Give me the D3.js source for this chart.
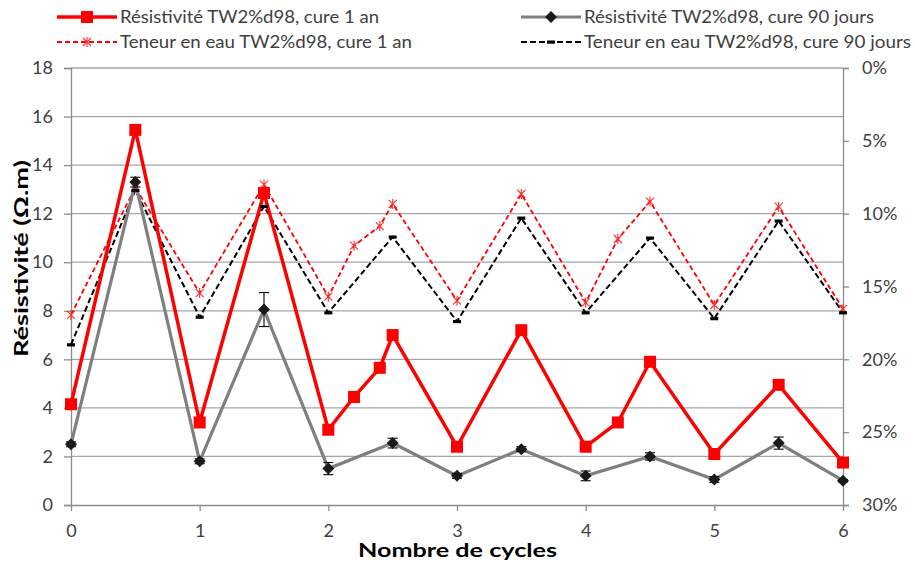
<!DOCTYPE html>
<html><head><meta charset="utf-8">
<script src="https://cdn.jsdelivr.net/npm/d3@7"></script>
<style>
body{margin:0;background:#fff;}
svg{display:block;font-family:Lato,"Open Sans",sans-serif;}
</style></head>
<body><svg id="chart" width="915" height="568"></svg>
<script>
// ---- data ----
const xRes1an = [0,0.5,1,1.5,2,2.2,2.4,2.5,3,3.5,4,4.25,4.5,5,5.5,6];
const res1an  = [4.15,15.45,3.4,12.85,3.1,4.45,5.65,7.0,2.4,7.2,2.4,3.4,5.9,2.1,4.95,1.75];
const xRes90  = [0,0.5,1,1.5,2,2.5,3,3.5,4,4.5,5,5.5,6];
const res90   = [2.5,13.3,1.8,8.05,1.5,2.55,1.2,2.3,1.2,2.0,1.05,2.55,1.0];
const res90Err= [0.1,0.2,0.1,0.7,0.25,0.2,0.1,0.1,0.2,0.15,0.12,0.25,0.05];
const eau1an  = [16.95,8.2,15.45,8.0,15.7,12.2,10.85,9.33,15.97,8.65,16.1,11.74,9.17,16.27,9.52,16.54];
const eau90   = [19.0,8.4,17.1,9.5,16.8,11.6,17.4,10.3,16.8,11.67,17.2,10.5,16.8];
const xTicks = [0,1,2,3,4,5,6];
const yTicks = [0,2,4,6,8,10,12,14,16,18];
const y2Ticks = [0,5,10,15,20,25,30];
const legendLabels = ["Résistivité TW2%d98, cure 1 an","Résistivité TW2%d98, cure 90 jours",
  "Teneur en eau TW2%d98, cure 1 an","Teneur en eau TW2%d98, cure 90 jours"];
const xTitle = "Nombre de cycles";
const yTitle = "Résistivité (Ω.m)";

// ---- layout ----
const svg = d3.select("#chart");
const L=71, R=843, T=68, B=505;
const x = d3.scaleLinear().domain([0,6]).range([L,R]);
const y = d3.scaleLinear().domain([0,18]).range([B,T]);
const y2 = d3.scaleLinear().domain([0,30]).range([T,B]);
const gridC="#a6a6a6", axisC="#8c8c8c", txtC="#404040";

// gridlines
svg.append("g").selectAll("line").data(yTicks.filter(d=>d>0)).join("line")
  .attr("x1",L).attr("x2",R).attr("y1",d=>y(d)).attr("y2",d=>y(d))
  .attr("stroke",gridC).attr("stroke-width",1.3);

// axes
const gl = svg.append("g").attr("transform",`translate(${L},0)`)
  .call(d3.axisLeft(y).tickValues(yTicks).tickSize(7).tickPadding(11));
const gr = svg.append("g").attr("transform",`translate(${R},0)`)
  .call(d3.axisRight(y2).tickValues(y2Ticks).tickSize(6).tickPadding(13).tickFormat(d=>d+"%"));
const gb = svg.append("g").attr("transform",`translate(0,${B})`)
  .call(d3.axisBottom(x).tickValues(xTicks).tickSize(6).tickPadding(13).tickFormat(d3.format("d")));
[gl,gr,gb].forEach(g=>{
  g.selectAll("path,line").attr("stroke",axisC).attr("stroke-width",1.3);
  g.selectAll("text").attr("fill",txtC).attr("font-size",18).attr("font-family","Lato,'Open Sans',sans-serif");
});
gb.select("path").attr("d",`M${L},0.5H${R}`);

// titles
svg.append("text").attr("x",358).attr("y",557)
  .attr("font-weight","bold").attr("font-size",18).attr("fill","#000")
  .attr("textLength",199).attr("lengthAdjust","spacingAndGlyphs").text(xTitle);
svg.append("text").attr("transform","translate(28,357) rotate(-90)")
  .attr("font-weight","bold").attr("font-size",18).attr("fill","#000")
  .attr("textLength",197).attr("lengthAdjust","spacingAndGlyphs").text(yTitle);

// ---- series ----
const lineRes = d3.line().x(d=>x(d[0])).y(d=>y(d[1]));
const lineEau = d3.line().x(d=>x(d[0])).y(d=>y2(d[1]));

const dEau1 = xRes1an.map((v,i)=>[v,eau1an[i]]);
const dEau90 = xRes90.map((v,i)=>[v,eau90[i]]);
const dRes1 = xRes1an.map((v,i)=>[v,res1an[i]]);
const dRes90 = xRes90.map((v,i)=>[v,res90[i],res90Err[i]]);

svg.append("path").attr("d",lineEau(dEau1)).attr("fill","none")
  .attr("stroke","#ff0000").attr("stroke-width",1.8).attr("stroke-dasharray","5,3");
svg.append("path").attr("d",lineEau(dEau90)).attr("fill","none")
  .attr("stroke","#000").attr("stroke-width",2).attr("stroke-dasharray","6,3");

svg.append("path").attr("d",lineRes(dRes90)).attr("fill","none")
  .attr("stroke","#7f7f7f").attr("stroke-width",3.2);
svg.append("path").attr("d",lineRes(dRes1)).attr("fill","none")
  .attr("stroke","#ff0000").attr("stroke-width",3.5);

function star(g,cx,cy,s,col){
  g.append("path").attr("d",`M${cx-s},${cy-s}L${cx+s},${cy+s}M${cx-s},${cy+s}L${cx+s},${cy-s}M${cx},${cy-s-1}L${cx},${cy+s+1}`)
   .attr("stroke",col).attr("stroke-width",1.1).attr("fill","none");
}
const gStar = svg.append("g");
dEau1.forEach(d=>star(gStar,x(d[0]),y2(d[1]),4,"#ff3030"));
svg.append("g").selectAll("rect").data(dEau90).join("rect")
  .attr("x",d=>x(d[0])-4).attr("y",d=>y2(d[1])-1.5).attr("width",8).attr("height",3.2).attr("fill","#000");

const ge = svg.append("g").attr("stroke","#000").attr("stroke-width",1.1);
dRes90.forEach(d=>{
  const cx=x(d[0]), y1=y(d[1]+d[2]), y0=y(d[1]-d[2]);
  ge.append("line").attr("x1",cx).attr("x2",cx).attr("y1",y1).attr("y2",y0);
  ge.append("line").attr("x1",cx-5).attr("x2",cx+5).attr("y1",y1).attr("y2",y1);
  ge.append("line").attr("x1",cx-5).attr("x2",cx+5).attr("y1",y0).attr("y2",y0);
});
svg.append("g").selectAll("path").data(dRes90).join("path")
  .attr("d",d=>{const cx=x(d[0]),cy=y(d[1]),s=6;return `M${cx},${cy-s}L${cx+s},${cy}L${cx},${cy+s}L${cx-s},${cy}Z`;})
  .attr("fill","#1a1a1a");
svg.append("g").selectAll("rect").data(dRes1).join("rect")
  .attr("x",d=>x(d[0])-6).attr("y",d=>y(d[1])-6).attr("width",12).attr("height",12).attr("fill","#ff0000");

// ---- legend ----
const lg = svg.append("g");
const legPos = [[57,17],[521,17],[57,42],[521,42]];
const legLen = [259,290,292,327];
legPos.forEach((p,i)=>{
  const [lx,ly]=p, x1=lx, x2=lx+60, mx=lx+30;
  if(i===0){
    lg.append("line").attr("x1",x1).attr("x2",x2).attr("y1",ly).attr("y2",ly).attr("stroke","#ff0000").attr("stroke-width",3.5);
    lg.append("rect").attr("x",mx-6).attr("y",ly-6).attr("width",12).attr("height",12).attr("fill","#ff0000");
  } else if(i===1){
    lg.append("line").attr("x1",x1).attr("x2",x2).attr("y1",ly).attr("y2",ly).attr("stroke","#7f7f7f").attr("stroke-width",3.2);
    lg.append("path").attr("d",`M${mx},${ly-6}L${mx+6},${ly}L${mx},${ly+6}L${mx-6},${ly}Z`).attr("fill","#1a1a1a");
  } else if(i===2){
    lg.append("line").attr("x1",x1).attr("x2",x2).attr("y1",ly).attr("y2",ly).attr("stroke","#ff0000").attr("stroke-width",1.8).attr("stroke-dasharray","5,3");
    star(lg,mx,ly,4,"#ff3030");
  } else {
    lg.append("line").attr("x1",x1).attr("x2",x2).attr("y1",ly).attr("y2",ly).attr("stroke","#000").attr("stroke-width",2).attr("stroke-dasharray","6,3");
    lg.append("rect").attr("x",mx-4).attr("y",ly-1.5).attr("width",8).attr("height",3.2).attr("fill","#000");
  }
  lg.append("text").attr("x",lx+63).attr("y",ly+6).attr("font-size",17).attr("fill",txtC)
    .attr("textLength",legLen[i]).attr("lengthAdjust","spacingAndGlyphs").text(legendLabels[i]);
});
</script></body></html>
